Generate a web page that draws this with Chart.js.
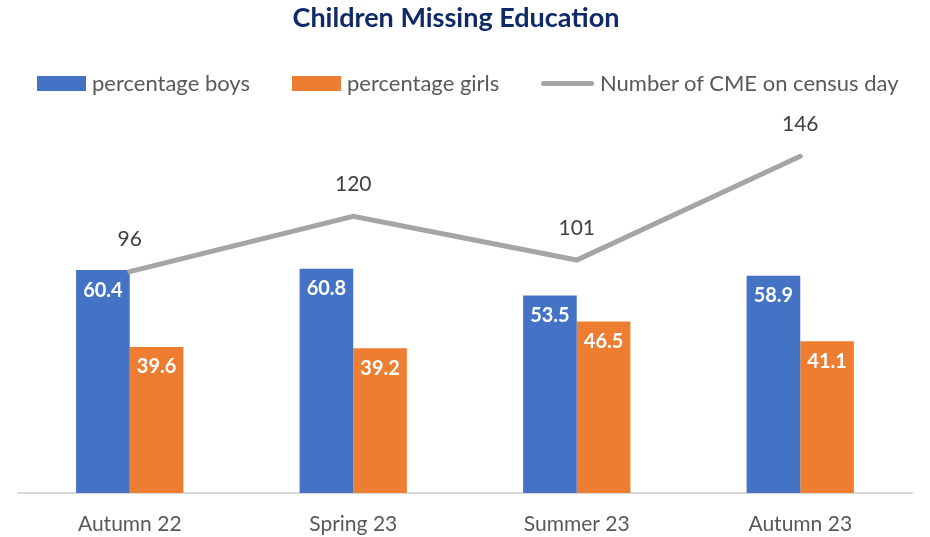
<!DOCTYPE html>
<html>
<head>
<meta charset="utf-8">
<script src="https://cdn.jsdelivr.net/npm/chart.js@4.4.1/dist/chart.umd.min.js"></script>
<style>
  html, body { margin: 0; padding: 0; background: #fff; }
  #wrap { position: relative; width: 930px; height: 537px; font-family: Lato, "Open Sans", sans-serif; }
  #title { position: absolute; left: 0; width: 912px; top: 0px; text-align: center; font-weight: bold; font-size: 27px; color: #0F2A66; }
  .leg { position: absolute; top: 69px; font-size: 22px; color: #595959; white-space: nowrap; }
  .sw { position: absolute; }
  canvas { position: absolute; left: 0; top: 0; }
</style>
</head>
<body>
<div id="wrap">
  <canvas id="chart" width="930" height="537"></canvas>
  <div id="title">Children Missing Education</div>
  <div id="legend"></div>
</div>
<script>
// data
var categories = ['Autumn 22', 'Spring 23', 'Summer 23', 'Autumn 23'];
var boys = [60.4, 60.8, 53.5, 58.9];
var girls = [39.6, 39.2, 46.5, 41.1];
var cmeCount = [96, 120, 101, 146];

var seriesNames = ['percentage boys', 'percentage girls', 'Number of CME on census day'];
var blue = '#4472C4', orange = '#ED7D31', grey = '#A5A5A5';

// html legend
var legend = document.getElementById('legend');
var legItems = [
  { x: 37, text: seriesNames[0], color: blue, type: 'box' },
  { x: 292, text: seriesNames[1], color: orange, type: 'box' },
  { x: 541, text: seriesNames[2], color: grey, type: 'line' }
];
legItems.forEach(function (it) {
  var sw = document.createElement('div');
  sw.className = 'sw';
  sw.style.left = it.x + 'px';
  sw.style.width = (it.type == 'box' ? 49 : 53) + 'px';
  sw.style.background = it.color;
  if (it.type == 'box') { sw.style.top = '76px'; sw.style.height = '15px'; }
  else { sw.style.top = '81px'; sw.style.height = '5px'; sw.style.borderRadius = '3px'; }
  legend.appendChild(sw);
  var t = document.createElement('div');
  t.className = 'leg';
  t.style.left = (it.x + (it.type == 'box' ? 55 : 59)) + 'px';
  t.textContent = it.text;
  legend.appendChild(t);
});

// value labels
var valueLabels = {
  id: 'valueLabels',
  afterDatasetsDraw: function (chart) {
    var ctx = chart.ctx;
    ctx.save();
    ctx.textAlign = 'center';
    ctx.textBaseline = 'middle';
    chart.data.datasets.forEach(function (ds, i) {
      var meta = chart.getDatasetMeta(i);
      meta.data.forEach(function (el, j) {
        var v = ds.data[j];
        if (ds.type == 'line') {
          ctx.font = '21px Lato, "Open Sans", sans-serif';
          ctx.fillStyle = '#404040';
          ctx.fillText(String(v), el.x, el.y - 32);
        } else {
          ctx.font = 'bold 20px Lato, "Open Sans", sans-serif';
          ctx.fillStyle = '#ffffff';
          ctx.fillText(v.toFixed(1), el.x, el.y + 20);
        }
      });
    });
    ctx.restore();
  }
};

new Chart(document.getElementById('chart'), {
  data: {
    labels: categories,
    datasets: [
      { type: 'line', label: seriesNames[2], data: cmeCount, yAxisID: 'y2',
        borderColor: grey, borderWidth: 5, borderCapStyle: 'round', pointRadius: 0,
        fill: false, tension: 0, order: 0 },
      { type: 'bar', label: seriesNames[0], data: boys, yAxisID: 'y',
        backgroundColor: blue, barPercentage: 1, categoryPercentage: 0.48, order: 1 },
      { type: 'bar', label: seriesNames[1], data: girls, yAxisID: 'y',
        backgroundColor: orange, barPercentage: 1, categoryPercentage: 0.48, order: 1 }
    ]
  },
  options: {
    responsive: false,
    animation: false,
    layout: { padding: { top: 124, left: 18, right: 18, bottom: 1 } },
    plugins: {
      legend: { display: false },
      title: { display: false },
      tooltip: { enabled: false }
    },
    scales: {
      x: {
        grid: { display: false, drawTicks: false },
        border: { display: true, color: '#D9D9D9', width: 2 },
        ticks: { color: '#595959', padding: 19, font: { family: 'Lato', size: 21 } },
        afterFit: function (scale) { scale.height = 43; }
      },
      y: { display: false, min: 0, max: 100 },
      y2: { display: false, min: 0, max: 160, position: 'right' }
    }
  },
  plugins: [valueLabels]
});
</script>
</body>
</html>
